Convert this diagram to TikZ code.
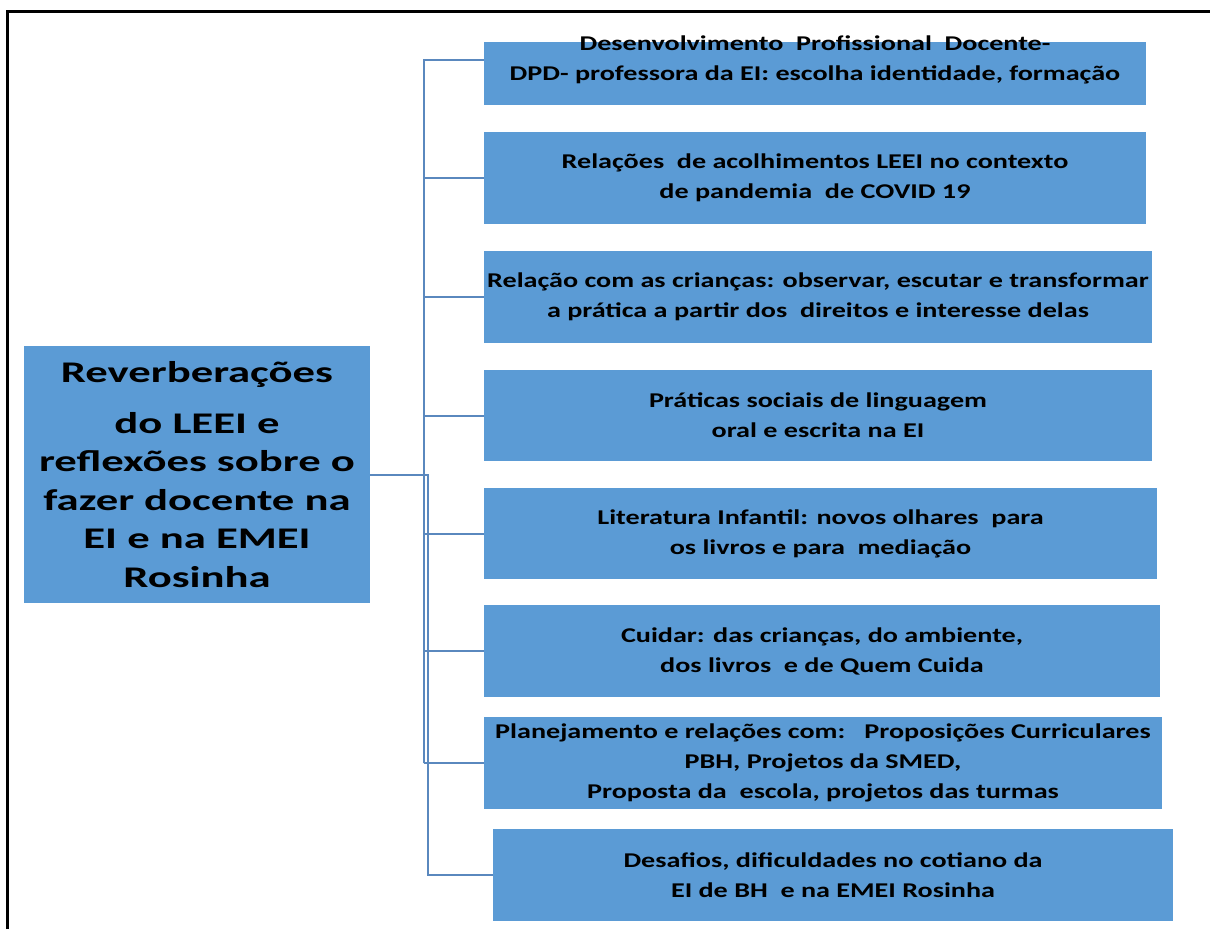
\documentclass[tikz,border=0pt]{standalone}
\usepackage{fontspec}
\setmainfont{Carlito}
\newfontfamily\widefont[FakeStretch=1.34]{Carlito}
\newfontfamily\hubfont[FakeStretch=1.49]{Carlito}
\definecolor{boxblue}{HTML}{5B9BD5}
\definecolor{linkblue}{HTML}{5A88BE}
\begin{document}
\begin{tikzpicture}[x=1pt,y=-1pt,
        caption/.style={inner sep=0pt,align=center,
            font=\widefont\bfseries\fontsize{21}{30}\selectfont},
        topic/.style={caption,rectangle,fill=boxblue},
        hub/.style={topic,font=\hubfont\bfseries\fontsize{30}{38.5}\selectfont},
        link/.style={draw=linkblue,line width=2pt}]
        \useasboundingbox (0,0) rectangle (1210,929);
        \draw [line width=3pt] (7,929) -- (7,11) -- (1210,11);
        \node [hub,minimum width=346,minimum height=257] (c) at (197,474.5) {Reverberações\\[12pt] do LEEI e\\ reflexões sobre o\\ fazer docente na\\ EI e na EMEI\\ Rosinha};
        \node [topic,minimum width=662,minimum height=63] (d1) at (815,73.5) {};
        \node [caption] (t1) at (815,60) {Desenvolvimento\ \ Profissional\ \ Docente-\\ DPD- professora da EI: escolha identidade, formação};
        \node [topic,minimum width=662,minimum height=92] (d2) at (815,178) {Relações\ \ de acolhimentos LEEI no contexto\\ de pandemia\ \ de COVID 19};
        \node [topic,minimum width=668,minimum height=92] (d3) at (818,297) {Relação com as crianças: observar, escutar e transformar\\ a prática a partir dos\ \ direitos e interesse delas};
        \node [topic,minimum width=668,minimum height=91] (d4) at (818,415.5) {Práticas sociais de linguagem\\ oral e escrita na EI};
        \node [topic,minimum width=673,minimum height=91] (d5) at (820.5,533.5) {Literatura Infantil: novos olhares\ \ para\\ os livros e para\ \ mediação};
        \node [topic,minimum width=676,minimum height=92] (d6) at (822,651) {Cuidar: das crianças, do ambiente,\\ dos livros\ \ e de Quem Cuida};
        \node [topic,minimum width=678,minimum height=92] (d7) at (823,763) {Planejamento e relações com:\ \ \ Proposições Curriculares\\ PBH, Projetos da SMED,\\ Proposta da\ \ escola, projetos das turmas};
        \node [topic,minimum width=680,minimum height=92] (d8) at (833,875) {Desafios, dificuldades no cotiano da\\ EI de BH\ \ e na EMEI Rosinha};
        \coordinate (spine) at (424,763);
        \coordinate (fork) at (428,474.5);
        \draw [link] (spine) |- (d1.west |- t1);
        \draw [link] (spine) |- (d2);
        \draw [link] (spine) |- (d3);
        \draw [link] (spine) |- (d4);
        \draw [link] (spine) |- (d5);
        \draw [link] (spine) |- (d6);
        \draw [link] (spine) -- (d7);
        \draw [link] (c) -- (fork) |- (d8);
\end{tikzpicture}
\end{document}
